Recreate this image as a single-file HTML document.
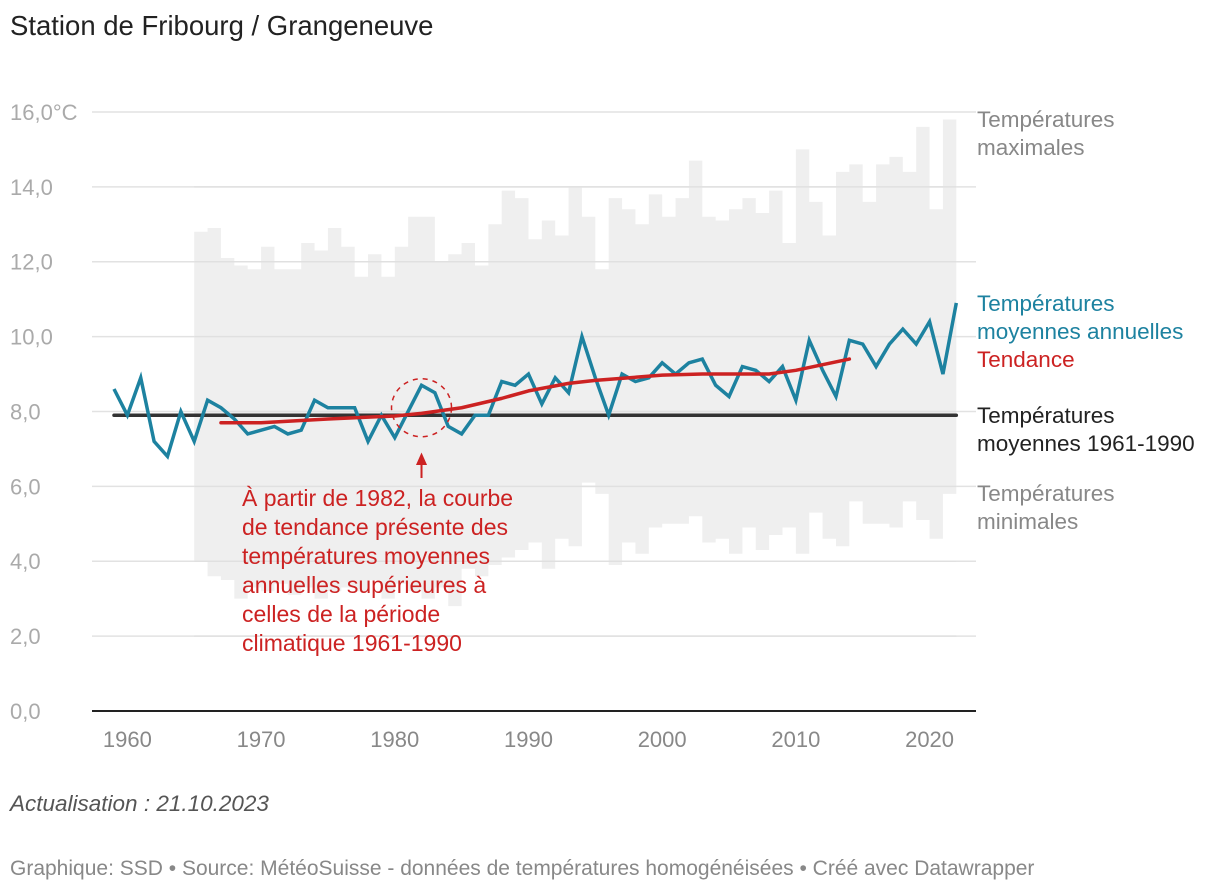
<!DOCTYPE html>
<html><head><meta charset="utf-8"><style>
body{margin:0;background:#fff;width:1220px;height:894px;overflow:hidden;font-family:"Liberation Sans",sans-serif}
.t{position:absolute;white-space:nowrap}
</style></head><body>
<div class="t" style="left:10px;top:10px;font-size:27.5px;color:#222">Station de Fribourg / Grangeneuve</div>
<svg id="c" width="1220" height="894" style="position:absolute;left:0;top:0;font-family:'Liberation Sans',sans-serif"></svg>
<div class="t" style="left:10px;top:791px;font-size:22.5px;font-style:italic;color:#555">Actualisation : 21.10.2023</div>
<div class="t" style="left:10px;top:857px;font-size:21px;color:#888">Graphique: SSD • Source: MétéoSuisse - données de températures homogénéisées • Créé avec Datawrapper</div>
<script>
const meanYears=[1959,2022];
const meanVals=[8.6,7.9,8.9,7.2,6.8,8.0,7.2,8.3,8.1,7.8,7.4,7.5,7.6,7.4,7.5,8.3,8.1,8.1,8.1,7.2,7.9,7.3,8.0,8.7,8.5,7.6,7.4,7.9,7.9,8.8,8.7,9.0,8.2,8.9,8.5,10.0,8.9,7.9,9.0,8.8,8.9,9.3,9.0,9.3,9.4,8.7,8.4,9.2,9.1,8.8,9.2,8.3,9.9,9.1,8.4,9.9,9.8,9.2,9.8,10.2,9.8,10.4,9.0,10.9];
const rangeStart=1965;
const maxVals=[12.8,12.9,12.1,11.9,11.8,12.4,11.8,11.8,12.5,12.3,12.9,12.4,11.6,12.2,11.6,12.4,13.2,13.2,12.0,12.2,12.5,11.9,13.0,13.9,13.7,12.6,13.1,12.7,14.0,13.2,11.8,13.7,13.4,13.0,13.8,13.2,13.7,14.7,13.2,13.1,13.4,13.7,13.3,13.9,12.5,15.0,13.6,12.7,14.4,14.6,13.6,14.6,14.8,14.4,15.6,13.4,15.8];
const minVals=[4.0,3.6,3.5,3.0,3.3,3.2,3.4,3.1,3.3,3.0,3.2,3.3,3.2,3.5,3.0,3.4,3.2,3.0,3.3,2.8,3.8,3.6,3.9,4.1,4.3,4.5,3.8,4.6,4.4,6.1,5.8,3.9,4.5,4.2,4.9,5.0,5.0,5.2,4.5,4.6,4.2,4.9,4.3,4.7,4.9,4.2,5.3,4.6,4.4,5.6,5.0,5.0,4.9,5.6,5.1,4.6,5.8];
const trendYears=[1967,1970,1975,1980,1982,1985,1988,1990,1993,1995,2000,2003,2005,2008,2010,2012,2014];
const trendVals=[7.7,7.7,7.8,7.88,7.95,8.1,8.35,8.55,8.75,8.83,8.97,9.0,9.0,9.0,9.1,9.25,9.4];
const normalVal=7.9;
const yTicks=[0,2,4,6,8,10,12,14,16];
const yTickLabels=["0,0","2,0","4,0","6,0","8,0","10,0","12,0","14,0","16,0°C"];
const xTicks=[1960,1970,1980,1990,2000,2010,2020];

const X=y=>114+(y-1959)*13.37, Y=v=>711-v*37.44;
const svg=document.getElementById('c'),NS='http://www.w3.org/2000/svg';
function mk(t,a,p){const e=document.createElementNS(NS,t);for(const k in a)e.setAttribute(k,a[k]);(p||svg).appendChild(e);return e;}
yTicks.forEach((v,i)=>{
 const l=mk('line',{x1:92,x2:976,y1:Y(v),y2:Y(v),stroke:'#e2e2e2','stroke-width':1.5});
 
 
 const t=mk('text',{x:10,y:Y(v)+8,'font-size':22,fill:'#aaa'});t.textContent=yTickLabels[i];
 
 
});
let upperPath='',lowerPath='';
maxVals.forEach((v,i)=>{const y=rangeStart+i;upperPath+=(i?'L':'M')+X(y)+','+Y(v)+'L'+X(y+1)+','+Y(v);});
for(let i=minVals.length-1;i>=0;i--){const y=rangeStart+i;lowerPath+='L'+X(y+1)+','+Y(minVals[i])+'L'+X(y)+','+Y(minVals[i]);}
const ar=mk('path',{d:upperPath+lowerPath+'Z',fill:'#efefef'});


yTicks.forEach(v=>{if(v>=2&&v<=14)mk('line',{x1:X(1965),x2:X(2022),y1:Y(v),y2:Y(v),stroke:'#e0e0e0','stroke-width':1.5});});
const ax=mk('line',{x1:92,x2:976,y1:711,y2:711,stroke:'#222','stroke-width':2});


xTicks.forEach(y=>{const t=mk('text',{x:X(y),y:747,'font-size':22,fill:'#888','text-anchor':'middle'});t.textContent=y;
 
 });
const nl=mk('line',{x1:X(meanYears[0]),x2:X(meanYears[1]),y1:Y(normalVal),y2:Y(normalVal),stroke:'#333','stroke-width':3.5,'stroke-linecap':'round'});


const ml=mk('polyline',{points:meanVals.map((v,i)=>X(meanYears[0]+i)+','+Y(v)).join(' '),fill:'none',stroke:'#1d82a0','stroke-width':3.5,'stroke-linejoin':'miter'});


const tl=mk('polyline',{points:trendVals.map((v,i)=>X(trendYears[i])+','+Y(v)).join(' '),fill:'none',stroke:'#cc2222','stroke-width':3.5,'stroke-linejoin':'round','stroke-linecap':'round'});


const ci=mk('ellipse',{cx:X(1982),cy:Y(8.1),rx:30,ry:29,fill:'none',stroke:'#cc2222','stroke-width':1.5,'stroke-dasharray':'5,5'});


const ar2=mk('path',{d:`M${X(1982)},478 L${X(1982)},458 M${X(1982)-4},464 L${X(1982)},455 L${X(1982)+4},464Z`,stroke:'#cc2222','stroke-width':2,fill:'#cc2222'});


const ann=["À partir de 1982, la courbe","de tendance présente des","températures moyennes","annuelles supérieures à","celles de la période","climatique 1961-1990"];
ann.forEach((s,i)=>{const t=mk('text',{x:242,y:506+i*29,'font-size':23,fill:'#cc2222'});t.textContent=s;
 
 });
const labs=[["Températures",127,'#888'],["maximales",155,'#888'],["Températures",311,'#1d82a0'],["moyennes annuelles",339,'#1d82a0'],["Tendance",367,'#cc2222'],["Températures",423,'#222'],["moyennes 1961-1990",451,'#222'],["Températures",501,'#888'],["minimales",529,'#888']];
labs.forEach(l=>{const t=mk('text',{x:977,y:l[1],'font-size':22.5,fill:l[2]});t.textContent=l[0];
 
 });
</script>
</body></html>
